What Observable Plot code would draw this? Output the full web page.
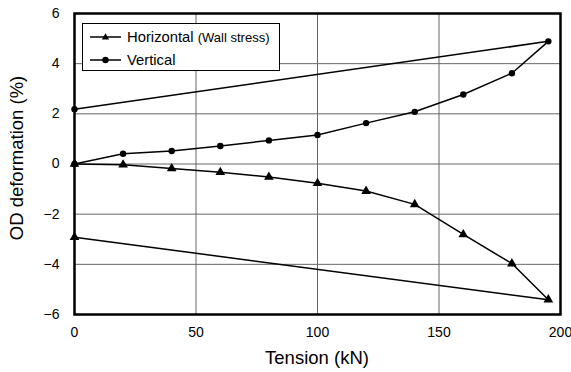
<!DOCTYPE html>
<html>
<head>
<meta charset="utf-8">
<script src="https://cdn.jsdelivr.net/npm/d3@7"></script>
<script src="https://cdn.jsdelivr.net/npm/@observablehq/plot@0.6"></script>
<style>
  body { margin: 0; background: #fff; font-family: "Liberation Sans", Arial, sans-serif; }
  #wrap { position: relative; width: 571px; height: 372px; }
  #legend { position: absolute; left: 82px; top: 23px; width: 198px; height: 48px; box-sizing: border-box;
    border: 1px solid #000; background: #fff; font-size: 14.8px; color: #000; }
  .row { position: absolute; left: 7px; height: 18px; display: flex; align-items: center; line-height: 1; }
  .row svg { margin-right: 6px; }
  .small { font-size: 13px; }
  .title { position: absolute; font-size: 18.5px; line-height: 1; color: #000; white-space: nowrap; font-weight: normal; }
  #xtitle { left: 74px; width: 486px; text-align: center; top: 349px; }
  #ytitle { left: 17px; top: 157.5px; transform: translate(-50%, -50%) rotate(-90deg); }
</style>
</head>
<body>
<div id="wrap"></div>
<script>
const tension = [0, 20, 40, 60, 80, 100, 120, 140, 160, 180, 195, 0];
const verticalVals = [0, 0.41, 0.52, 0.72, 0.94, 1.16, 1.63, 2.08, 2.77, 3.62, 4.89, 2.18];
const horizontalVals = [0, -0.03, -0.18, -0.33, -0.52, -0.77, -1.08, -1.61, -2.81, -3.97, -5.41, -2.92];
const xTicks = [0, 50, 100, 150, 200];
const yTicks = [-6, -4, -2, 0, 2, 4, 6];
const seriesNames = ["Horizontal", "Vertical"];
const legendNote = "(Wall stress)";
const xTitle = "Tension (kN)";
const yTitle = "OD deformation (%)";

const vert = tension.map((t, i) => ({x: t, y: verticalVals[i]}));
const horiz = tension.map((t, i) => ({x: t, y: horizontalVals[i]}));

const chart = Plot.plot({
  width: 571,
  height: 372,
  marginLeft: 74,
  marginRight: 11,
  marginTop: 13,
  marginBottom: 58,
  style: {fontFamily: "'Liberation Sans', Arial, sans-serif", fontSize: "14px", color: "#000", background: "#fff"},
  x: {domain: [0, 200], ticks: xTicks, tickSize: 0, tickPadding: 13, label: null},
  y: {domain: [-6, 6], ticks: yTicks, tickSize: 0, tickPadding: 15, label: null},
  marks: [
    Plot.gridX(xTicks.slice(1, -1), {stroke: "#666", strokeOpacity: 1, strokeWidth: 1}),
    Plot.gridY(yTicks.slice(1, -1), {stroke: "#666", strokeOpacity: 1, strokeWidth: 1}),
    Plot.line(vert, {x: "x", y: "y", stroke: "#000", strokeWidth: 1.5}),
    Plot.line(horiz, {x: "x", y: "y", stroke: "#000", strokeWidth: 1.5}),
    Plot.dot(vert, {x: "x", y: "y", r: 3.2, fill: "#000", symbol: "circle"}),
    Plot.dot(horiz, {x: "x", y: "y", r: 3.6, fill: "#000", symbol: "triangle"}),
    Plot.frame({stroke: "#000", strokeWidth: 2.5})
  ]
});
chart.style.overflow = "visible";

const wrap = document.getElementById("wrap");
wrap.appendChild(chart);

const xt = document.createElement("div");
xt.id = "xtitle"; xt.className = "title"; xt.textContent = xTitle;
wrap.appendChild(xt);
const yt = document.createElement("div");
yt.id = "ytitle"; yt.className = "title"; yt.textContent = yTitle;
wrap.appendChild(yt);

const legend = document.createElement("div");
legend.id = "legend";
const sym = (kind) => `<svg width="31" height="10"><line x1="0" y1="5" x2="31" y2="5" stroke="#000" stroke-width="1.5"/>` +
  (kind === "circle" ? `<circle cx="15.5" cy="5" r="3.2" fill="#000"/>` : `<path d="M15.5,1.2 L19.1,7.4 L11.9,7.4 Z" fill="#000"/>`) + `</svg>`;
legend.innerHTML =
  `<div class="row" style="top:4px">${sym("triangle")}<span>${seriesNames[0]}&nbsp;<span class="small">${legendNote}</span></span></div>` +
  `<div class="row" style="top:27px">${sym("circle")}<span>${seriesNames[1]}</span></div>`;
wrap.appendChild(legend);
</script>
</body>
</html>
